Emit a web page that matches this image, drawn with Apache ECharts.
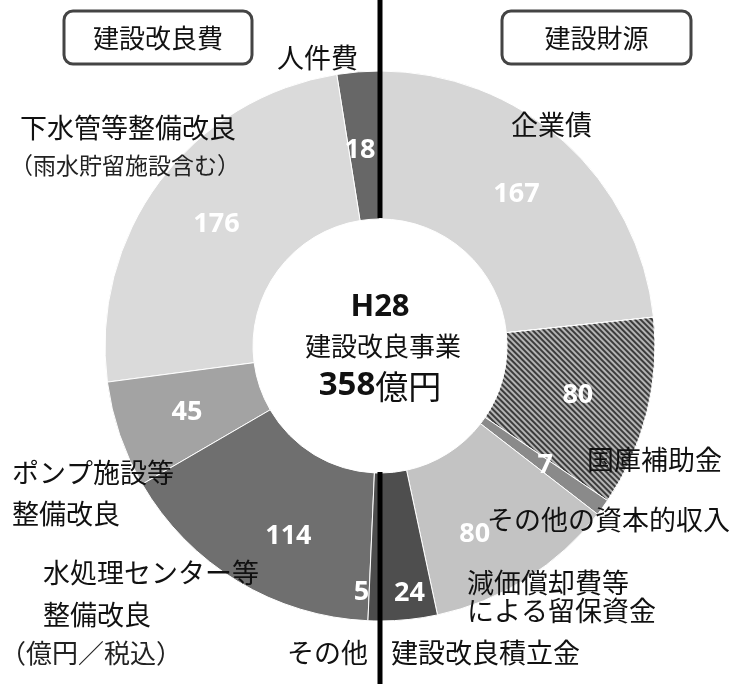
<!DOCTYPE html>
<head>
    <meta charset="utf-8">
    <title>H28 建設改良事業</title>
</head>
<body style="margin:0;background:#fff">
   <div id="main" style="width:748px;height:684px"></div>
     <script src="https://cdn.jsdelivr.net/npm/echarts@6/dist/echarts.min.js"></script>
      <script type="text/javascript">

    // 建設改良費（左半分）と建設財源（右半分）、単位：億円
    var costNames = ['人件費', '下水管等整備改良\n（雨水貯留施設含む）', 'ポンプ施設等\n整備改良', '水処理センター等\n整備改良', 'その他'];
    var costValues = [18, 176, 45, 114, 5];
    var fundNames = ['企業債', '国庫補助金', 'その他の資本的収入', '減価償却費等\nによる留保資金', '建設改良積立金'];
    var fundValues = [167, 80, 7, 80, 24];
    var total = 358;

    var costColors = ['#676767', '#dadada', '#a3a3a3', '#6f6f6f', '#4c4c4c'];
    var fundColors = ['#d6d6d6', '#b4b4b4', '#8a8a8a', '#c3c3c3', '#4e4e4e'];

    var font = '"Noto Sans CJK JP", sans-serif';
    var myChart = echarts.init(document.getElementById('main'));

    function halfData(names, values, colors, hatchIdx) {
        var arr = values.map(function (v, i) {
            var d = { name: names[i], value: v, itemStyle: { color: colors[i] } };
            if (i === hatchIdx) {
                d.itemStyle.decal = {
                    symbol: 'rect', symbolSize: 1, color: 'rgba(30,30,30,0.8)',
                    dashArrayX: [1, 0], dashArrayY: [2, 2], rotation: Math.PI / 4
                };
            }
            return d;
        });
        // 残り半分は透明
        arr.push({ name: '', value: total, itemStyle: { color: 'rgba(0,0,0,0)', borderWidth: 0 },
                   label: { show: false }, emphasis: { disabled: true }, tooltip: { show: false } });
        return arr;
    }

    function pieSeries(data, clockwise, nudge) {
        return {
            type: 'pie',
            center: [380, 346],
            radius: [127, 275],
            startAngle: 90,
            clockwise: clockwise,
            silent: true,
            animation: false,
            avoidLabelOverlap: false,
            itemStyle: { borderColor: '#fff', borderWidth: 1 },
            label: {
                show: true, position: 'inside', formatter: '{c}',
                color: '#fff', fontSize: 27, fontWeight: 'bold',
                fontFamily: '"Open Sans", sans-serif'
            },
            labelLine: { show: false },
            labelLayout: function (p) {
                var n = nudge[p.dataIndex];
                return n ? { dx: n[0], dy: n[1] } : {};
            },
            data: data
        };
    }

    // 区分名の配置
    var costPos = [[277, 58], [18, 146], [12, 493], [43, 594], [287, 653]];
    var fundPos = [[511, 125], [587, 460], [487, 520], [467, 597], [391, 653]];
    var lineH = [0, 37, 41, 42, 0];
    var fundLineH = [0, 0, 0, 28, 0];

    var graphics = [];
    function addText(txt, x, y, size, lh, extra) {
        var st = { text: txt, fontSize: size, fontFamily: font, fill: '#111',
                   verticalAlign: 'middle', align: 'left' };
        if (lh) st.lineHeight = lh;
        for (var k in extra) st[k] = extra[k];
        graphics.push({ type: 'text', x: x, y: y, z: 50, style: st });
    }
    costNames.forEach(function (n, i) {
        if (i === 1) {
            addText('下水管等整備改良', costPos[i][0] + 2, 128, 27);
            addText('（雨水貯留施設含む）', costPos[i][0] - 8, 165, 23, 0, { fill: '#222' });
        } else {
            addText(n, costPos[i][0], costPos[i][1], 27, lineH[i]);
        }
    });
    fundNames.forEach(function (n, i) {
        addText(n, fundPos[i][0], fundPos[i][1], 27, fundLineH[i]);
    });
    addText('（億円／税込）', 0, 653, 26, 0, { fill: '#222' });

    // 見出しの枠
    [[64, 11, '建設改良費'], [502, 11, '建設財源']].forEach(function (b) {
        var w = b[2].length === 5 ? 188 : 189;
        graphics.push({ type: 'rect', z: 50, shape: { x: b[0], y: b[1], width: w, height: 53, r: 9 },
                        style: { fill: '#fff', stroke: '#444', lineWidth: 3 } });
        graphics.push({ type: 'text', z: 51, x: b[0] + w / 2, y: b[1] + 27,
                        style: { text: b[2], fontSize: 26, fontFamily: font, fill: '#111',
                                 align: 'center', verticalAlign: 'middle' } });
    });

    // 中央の表示
    graphics.push({ type: 'text', z: 50, x: 380, y: 307,
        style: { text: 'H28', fontSize: 31, fontWeight: 'bold', fontFamily: '"Open Sans", sans-serif',
                 fill: '#111', align: 'center', verticalAlign: 'middle' } });
    graphics.push({ type: 'text', z: 50, x: 383, y: 346,
        style: { text: '建設改良事業', fontSize: 26, fontFamily: font, fill: '#111',
                 align: 'center', verticalAlign: 'middle' } });
    graphics.push({ type: 'text', z: 50, x: 380, y: 386,
        style: { text: '{a|358}{b|億円}', fill: '#111', align: 'center', verticalAlign: 'middle',
                 rich: { a: { fontSize: 33, fontWeight: 'bold', fontFamily: '"Open Sans", sans-serif' },
                         b: { fontSize: 33, fontFamily: font } } } });

    // 中央の縦線（内円の上下）
    graphics.push({ type: 'line', z: 100, shape: { x1: 380, y1: 0, x2: 380, y2: 218 },
                    style: { stroke: '#000', lineWidth: 5 } });
    graphics.push({ type: 'line', z: 100, shape: { x1: 380, y1: 472, x2: 380, y2: 684 },
                    style: { stroke: '#000', lineWidth: 5 } });

    var option = {
        backgroundColor: '#fff',
        series: [
            pieSeries(halfData(costNames, costValues, costColors, -1), false,
                      { 0: [-4, 8], 3: [14, 16], 4: [-14, 42] }),
            pieSeries(halfData(fundNames, fundValues, fundColors, 1), true,
                      { 3: [-14, 16], 4: [8, 44] })
        ],
        graphic: graphics
    };
    myChart.setOption(option);

</script>
</body>
